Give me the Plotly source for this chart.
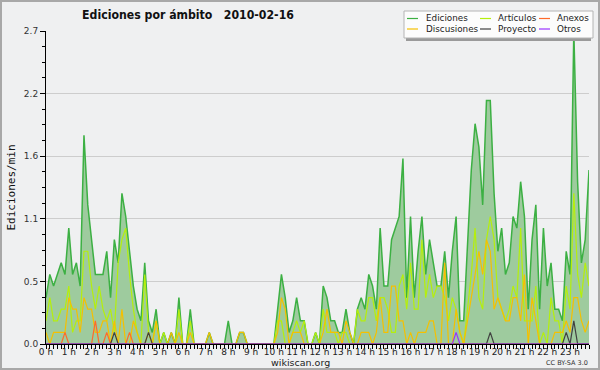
import plotly.graph_objects as go

# ---------------- data (10-minute steps, edits per minute) ----------------
hour_labels = [f"{h} h" for h in range(24)]
hours = list(range(24))

ediciones = [
    0.4, 0.6, 0.5, 0.6, 0.7, 0.6, 1.0, 0.6, 0.7, 0.5, 1.8, 1.2,
    0.9, 0.6, 0.6, 0.6, 0.8, 0.4, 0.9, 0.7, 1.3, 1.1, 0.8, 0.5,
    0.3, 0.2, 0.7, 0.2, 0.1, 0.3, 0.0, 0.1, 0.0, 0.1, 0.0, 0.4,
    0.0, 0.0, 0.3, 0.0, 0.0, 0.0, 0.0, 0.1, 0.0, 0.0, 0.0, 0.0,
    0.2, 0.0, 0.0, 0.1, 0.1, 0.0, 0.0, 0.0, 0.0, 0.0, 0.0, 0.0,
    0.0, 0.3, 0.6, 0.4, 0.1, 0.2, 0.4, 0.2, 0.2, 0.0, 0.0, 0.1,
    0.0, 0.5, 0.4, 0.2, 0.2, 0.1, 0.1, 0.3, 0.1, 0.0, 0.3, 0.4,
    0.3, 0.6, 0.5, 0.3, 1.0, 0.5, 0.5, 0.9, 1.0, 1.1, 1.6, 0.4,
    1.1, 0.4, 0.8, 1.1, 0.6, 0.9, 0.7, 0.5, 0.5, 0.8, 0.4, 0.8,
    1.1, 0.2, 0.2, 0.8, 1.5, 1.9, 1.7, 1.2, 2.1, 2.1, 1.3, 0.8,
    1.0, 0.6, 0.7, 1.1, 1.0, 1.4, 1.1, 0.3, 0.9, 1.2, 0.3, 1.0,
    0.5, 0.7, 0.3, 0.3, 0.2, 0.8, 0.6, 2.7, 1.4, 0.7, 0.9, 1.5,
]
articulos = [
    0.2, 0.4, 0.2, 0.2, 0.3, 0.3, 0.5, 0.1, 0.2, 0.2, 0.8, 0.8,
    0.5, 0.3, 0.5, 0.3, 0.2, 0.3, 0.1, 0.7, 0.9, 1.0, 0.6, 0.3,
    0.1, 0.0, 0.6, 0.1, 0.0, 0.2, 0.0, 0.1, 0.0, 0.0, 0.0, 0.3,
    0.0, 0.0, 0.2, 0.0, 0.0, 0.0, 0.0, 0.0, 0.0, 0.0, 0.0, 0.0,
    0.0, 0.0, 0.0, 0.0, 0.0, 0.0, 0.0, 0.0, 0.0, 0.0, 0.0, 0.0,
    0.0, 0.2, 0.2, 0.0, 0.0, 0.1, 0.2, 0.1, 0.2, 0.0, 0.0, 0.1,
    0.0, 0.3, 0.1, 0.1, 0.1, 0.0, 0.1, 0.1, 0.0, 0.0, 0.3, 0.2,
    0.2, 0.4, 0.4, 0.2, 0.4, 0.4, 0.3, 0.1, 0.1, 0.5, 0.6, 0.3,
    0.7, 0.3, 0.3, 0.9, 0.4, 0.6, 0.4, 0.5, 0.5, 0.4, 0.2, 0.4,
    0.3, 0.1, 0.0, 0.3, 0.6, 1.0, 0.4, 0.3, 0.9, 1.1, 0.9, 0.4,
    0.3, 0.2, 0.3, 0.5, 0.4, 1.0, 0.2, 0.2, 0.2, 0.5, 0.0, 0.1,
    0.0, 0.4, 0.2, 0.2, 0.0, 0.5, 0.3, 1.3, 0.6, 0.4, 0.7, 0.5,
]
discusiones = [
    0.1, 0.0, 0.1, 0.1, 0.1, 0.1, 0.4, 0.3, 0.3, 0.1, 0.4, 0.3,
    0.3, 0.1, 0.1, 0.2, 0.2, 0.0, 0.2, 0.0, 0.3, 0.0, 0.0, 0.2,
    0.1, 0.0, 0.0, 0.1, 0.0, 0.2, 0.0, 0.0, 0.0, 0.1, 0.0, 0.1,
    0.0, 0.0, 0.1, 0.0, 0.0, 0.0, 0.0, 0.1, 0.0, 0.0, 0.0, 0.0,
    0.0, 0.0, 0.0, 0.1, 0.1, 0.0, 0.0, 0.0, 0.0, 0.0, 0.0, 0.0,
    0.0, 0.1, 0.4, 0.3, 0.0, 0.1, 0.1, 0.1, 0.0, 0.0, 0.0, 0.0,
    0.0, 0.1, 0.3, 0.1, 0.1, 0.1, 0.0, 0.2, 0.1, 0.0, 0.0, 0.1,
    0.1, 0.1, 0.0, 0.1, 0.4, 0.1, 0.1, 0.5, 0.5, 0.2, 0.2, 0.0,
    0.1, 0.0, 0.1, 0.1, 0.1, 0.2, 0.2, 0.0, 0.0, 0.7, 0.0, 0.0,
    0.3, 0.1, 0.0, 0.2, 0.4, 0.6, 0.8, 0.6, 0.9, 0.8, 0.3, 0.4,
    0.3, 0.2, 0.2, 0.4, 0.4, 0.2, 0.6, 0.0, 0.4, 0.2, 0.0, 0.0,
    0.0, 0.0, 0.1, 0.1, 0.1, 0.2, 0.1, 0.4, 0.4, 0.2, 0.1, 0.2,
]
anexos = [
    0.0, 0.0, 0.0, 0.0, 0.0, 0.1, 0.0, 0.0, 0.0, 0.0, 0.0, 0.0,
    0.0, 0.2, 0.0, 0.0, 0.1, 0.0, 0.0, 0.0, 0.0, 0.0, 0.1, 0.0,
] + [0.0] * 120
proyecto = [
    0.0, 0.0, 0.0, 0.0, 0.0, 0.0, 0.0, 0.0, 0.0, 0.0, 0.0, 0.0,
    0.0, 0.0, 0.0, 0.0, 0.0, 0.0, 0.1, 0.0, 0.0, 0.0, 0.0, 0.0,
    0.0, 0.0, 0.0, 0.1, 0.0, 0.0, 0.0, 0.0, 0.0, 0.0, 0.0, 0.0,
] + [0.0] * 72 + [
    0.0, 0.0, 0.0, 0.0, 0.0, 0.0, 0.0, 0.0, 0.0, 0.1, 0.0, 0.0,
    0.0, 0.0, 0.0, 0.0, 0.0, 0.0, 0.0, 0.0, 0.0, 0.0, 0.0, 0.0,
    0.0, 0.0, 0.0, 0.0, 0.0, 0.1, 0.0, 0.2, 0.0, 0.0, 0.0, 0.0,
]
otros = [0.0] * 108 + [0.1] + [0.0] * 35

y_tickvals = [0, 0.54, 1.08, 1.62, 2.16, 2.7]
y_ticktext = ["0.0", "0.5", "1.1", "1.6", "2.2", "2.7"]

times = [i / 6 for i in range(len(ediciones))]  # hours

# ---------------- styles ----------------
C_ED, C_ED_FILL = "#3cb043", "#9ecb9e"
C_ART, C_DIS, C_ANX, C_PRO, C_OTR = "#b5ef0c", "#f5c000", "#ff6a2a", "#404040", "#9933ff"
BG = "#eff0f1"
FONT = "DejaVu Sans"

W, H = 600, 370
PL, PR, PT, PB = 46, 11, 31, 26
PW, PH = W - PL - PR, H - PT - PB


def px(x):
    return (x - PL) / PW


def py(y):
    return (PT + PH - y) / PH


fig = go.Figure()
fig.add_trace(go.Scatter(x=times, y=ediciones, mode="lines", name="Ediciones",
                         line=dict(color=C_ED, width=1.5), fill="tozeroy",
                         fillcolor=C_ED_FILL, showlegend=False))
for name, vals, col in [("Artículos", articulos, C_ART), ("Discusiones", discusiones, C_DIS),
                        ("Anexos", anexos, C_ANX), ("Proyecto", proyecto, C_PRO),
                        ("Otros", otros, C_OTR)]:
    fig.add_trace(go.Scatter(x=times, y=vals, mode="lines", name=name,
                             line=dict(color=col, width=1.2), showlegend=False))

shapes = []
annotations = []

# outer frame
shapes.append(dict(type="rect", xref="paper", yref="paper", x0=px(1), x1=px(599),
                   y0=py(1), y1=py(369), line=dict(color="#a8a8a8", width=2),
                   fillcolor="rgba(0,0,0,0)", layer="above"))

# legend box
shapes.append(dict(type="rect", xref="paper", yref="paper", x0=px(406), x1=px(591),
                   y0=py(13), y1=py(41), line=dict(width=0), fillcolor="#9a9a9a", layer="above"))
shapes.append(dict(type="rect", xref="paper", yref="paper", x0=px(404), x1=px(593),
                   y0=py(11), y1=py(38), line=dict(color="#b4b4b4", width=1),
                   fillcolor="#fcfcfc", layer="above"))
legend_items = [
    ("Ediciones", C_ED, 407, 424, 18.5), ("Artículos", C_ART, 480, 496, 18.5),
    ("Anexos", C_ANX, 539, 555, 18.5), ("Discusiones", C_DIS, 407, 424, 29),
    ("Proyecto", C_PRO, 480, 496, 29), ("Otros", C_OTR, 539, 555, 29),
]
for label, col, lx, tx, ly in legend_items:
    shapes.append(dict(type="line", xref="paper", yref="paper", x0=px(lx), x1=px(lx + 11),
                       y0=py(ly), y1=py(ly), line=dict(color=col, width=1.2), layer="above"))
    annotations.append(dict(text=label, xref="paper", yref="paper", x=px(tx), y=py(ly),
                            xanchor="left", yanchor="middle", showarrow=False,
                            font=dict(family=FONT, size=8.8, color="#222")))

annotations.append(dict(text="wikiscan.org", xref="paper", yref="paper", x=px(300), y=py(362),
                        xanchor="center", yanchor="middle", showarrow=False,
                        font=dict(family=FONT, size=9.5, color="#222")))
annotations.append(dict(text="CC BY-SA 3.0", xref="paper", yref="paper", x=px(590), y=py(362.5),
                        xanchor="right", yanchor="middle", showarrow=False,
                        font=dict(family=FONT, size=6.5, color="#333")))

fig.update_layout(
    width=W, height=H,
    margin=dict(l=PL, r=PR, t=PT, b=PB, autoexpand=False),
    paper_bgcolor=BG, plot_bgcolor=BG,
    title=dict(text="Ediciones por ámbito\u00a0\u00a0\u00a02010-02-16",
               x=px(188), xref="paper", xanchor="center",
               y=1 - 15 / H, yref="container", yanchor="middle",
               font=dict(family="DejaVu Sans Condensed, DejaVu Sans", size=12.2,
                         color="#111", weight="bold")),
    shapes=shapes, annotations=annotations,
    showlegend=False,
)
fig.update_xaxes(
    range=[0, times[-1]], tickmode="array", tickvals=hours, ticktext=hour_labels,
    ticks="outside", ticklen=4, tickcolor="#000", showline=True, linecolor="#000",
    linewidth=1, showgrid=False, zeroline=False, ticklabelstandoff=-5,
    tickfont=dict(family=FONT, size=9, color="#222"),
    minor=dict(tickmode="linear", tick0=0, dtick=1 / 6, ticks="outside", ticklen=4,
               tickcolor="#000", showgrid=False),
)
fig.update_yaxes(
    range=[0, 2.7], tickmode="array", tickvals=y_tickvals, ticktext=y_ticktext,
    ticks="outside", ticklen=5, tickcolor="#000", showline=True, linecolor="#000",
    linewidth=1, showgrid=True, gridcolor="#cdcdcd", gridwidth=1, zeroline=False,
    tickfont=dict(family=FONT, size=9, color="#333"),
    title=dict(text="Ediciones/min", standoff=6,
               font=dict(family="DejaVu Sans Mono", size=11, color="#111")),
    minor=dict(tickmode="linear", tick0=0, dtick=0.135, ticks="outside", ticklen=3,
               tickcolor="#000", showgrid=False),
)

fig.write_html("out.html", config={"displayModeBar": False},
               post_script="document.body.style.margin='0';document.body.style.overflow='hidden';")
